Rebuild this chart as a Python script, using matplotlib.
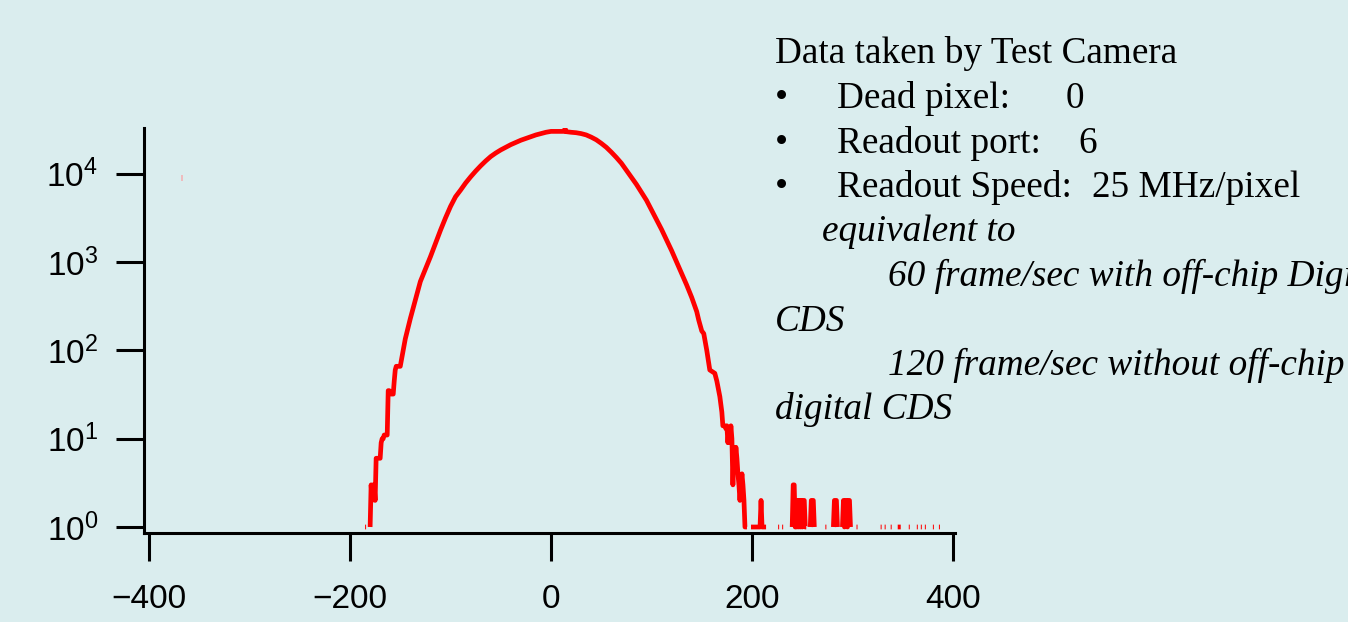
import numpy as np
import matplotlib
matplotlib.use("Agg")
import matplotlib.pyplot as plt
from matplotlib.ticker import FixedLocator, NullLocator, LogFormatterSciNotation

# ---- data (histogram: pixel value vs counts) ----
bin_x = [-185, -184, -183,
         -180, -179, -178, -177, -176, -175, -174, -173, -172, -171, -170, -169, -168, -167, -166, -165,
         -164, -163, -162, -161, -160, -159, -158, -157, -156, -155, -154, -153, -152, -151, -150,
         -145, -140, -135, -130, -125, -120, -115, -110, -105, -100, -95, -90, -85, -80, -75, -70,
         -65, -60, -55, -50, -45, -40, -35, -30, -25, -20, -15, -10, -5, 0, 5, 10, 13, 14, 15,
         20, 25, 30, 35, 40, 45, 50, 55, 60, 65, 70, 75, 80, 85, 90, 95, 100, 105, 110, 115, 120,
         125, 130, 135, 140, 145, 147, 148, 150, 152, 155, 158, 160, 163, 165, 168, 170,
         171, 172, 173, 174, 175, 176, 177, 178, 179, 180, 181, 182, 183, 184, 185, 186, 187,
         188, 189, 190, 191, 192, 193, 194, 195, 196,
         199, 200, 201, 202, 203, 204, 205, 206, 207, 208, 209, 210, 211, 212, 213, 214, 215,
         226, 227, 228, 230, 231, 232,
         240, 241, 242, 243, 244, 245, 246, 247, 248, 249, 250, 251, 252, 253, 254, 255,
         258, 259, 260, 261, 262, 263,
         273, 274, 275,
         281, 282, 283, 284, 285, 286,
         290, 291, 292, 293, 294, 295, 296, 297, 298, 299,
         304, 305, 306,
         328, 329, 330, 332, 333, 334, 338, 339, 340, 345, 346, 347, 348, 349,
         356, 357, 358, 364, 365, 366, 368, 369, 370, 372, 373, 374, 380, 381, 382, 386, 387]
counts = [1, 1, 0,
          1, 3, 2, 3, 3, 2, 6, 6, 6, 6, 6, 9, 10, 10, 11, 11,
          11, 11, 35, 35, 34, 32, 32, 32, 45, 60, 66, 66, 66, 66, 66,
          135, 229, 372, 603, 832, 1148, 1622, 2291, 3162, 4266, 5495, 6531, 7852, 9226, 10715, 12303,
          13964, 15668, 17179, 18621, 19953, 21380, 22646, 23988, 25119, 26303, 27542, 28510, 29512, 30200, 30200, 30200, 30200, 32700, 30000,
          29512, 29174, 28510, 27542, 26002, 24266, 22131, 19953, 17579, 15311, 13183, 10965, 9120, 7586, 6166, 5012, 3890, 3020, 2344, 1778, 1349,
          1000, 741, 550, 398, 275, 220, 200, 166, 155, 100, 60, 58, 55, 45, 30, 20,
          14, 14, 14, 13, 14, 9, 13, 9, 14, 10, 3, 8, 5, 8, 6, 4, 3,
          2, 3, 4, 3, 2, 1, 1, 1, 0,
          1, 1, 1, 1, 1, 1, 1, 1, 1, 1, 2, 1, 1, 1, 1, 1, 0,
          1, 1, 0, 1, 1, 0,
          1, 3, 3, 1, 1, 2, 1, 2, 1, 2, 1, 2, 2, 1, 1, 0,
          1, 2, 2, 2, 1, 0,
          1, 1, 0,
          1, 2, 2, 2, 1, 0,
          1, 2, 1, 2, 2, 1, 2, 2, 1, 0,
          1, 1, 0,
          1, 1, 0, 1, 1, 0, 1, 1, 0, 1, 1, 1, 1, 0,
          1, 1, 0, 1, 1, 0, 1, 1, 0, 1, 1, 0, 1, 1, 0, 1, 1]
stray_x = [-367]
stray_y = [8900]

x_ticks = [-400, -200, 0, 200, 400]
y_ticks = [1, 10, 100, 1000, 10000]

info_title = "Data taken by Test Camera"
info_items = [("Dead pixel:", "0"), ("Readout port:", "6"), ("Readout Speed:", "25 MHz/pixel")]
info_notes = ["equivalent to", "60 frame/sec with off-chip Digital", "CDS",
              "120 frame/sec without off-chip", "digital CDS"]

# ---- figure ----
W, H = 1348, 622
bg = "#daedee"
fig = plt.figure(figsize=(W / 100, H / 100), dpi=100, facecolor=bg)
plt.rcParams["mathtext.default"] = "regular"

def fx(px):
    return px / W

def fy(py):
    return 1 - py / H

ax = fig.add_axes([fx(144), fy(533), (955 - 144) / W, (533 - 128.3) / H])
ax.set_facecolor(bg)

y = np.array(counts, dtype=float)
y[y <= 0] = np.nan
ax.plot(bin_x, y, color="#ff0000", lw=3.4, solid_joinstyle="round", solid_capstyle="butt")
ax.plot(stray_x, stray_y, linestyle="none", marker="|", ms=4, mew=1.2, color="#f3b3b5")

ax.set_yscale("log")
ax.set_xlim(-405, 402)
ax.set_ylim(10 ** -0.068, 10 ** 4.515)
ax.xaxis.set_major_locator(FixedLocator(x_ticks))
ax.yaxis.set_major_locator(FixedLocator(y_ticks))
ax.yaxis.set_major_formatter(LogFormatterSciNotation())
ax.yaxis.set_minor_locator(NullLocator())
ax.xaxis.set_minor_locator(NullLocator())

for s in ["top", "right"]:
    ax.spines[s].set_visible(False)
for s in ["left", "bottom"]:
    ax.spines[s].set_linewidth(2.2)
    ax.spines[s].set_color("black")

tick_font = "Liberation Sans"
ax.tick_params(axis="both", which="major", direction="out", length=20, width=2.2,
               color="black", labelsize=24)
ax.tick_params(axis="y", pad=13)
ax.tick_params(axis="x", pad=17)
for lab in ax.get_xticklabels() + ax.get_yticklabels():
    lab.set_fontfamily(tick_font)

# ---- annotation text ----
serif = "Liberation Serif"
fs = 26.8
baselines = [63, 108, 153, 197, 241, 286, 331, 375, 419]
fig.text(fx(775), fy(baselines[0]), info_title, family=serif, fontsize=fs, va="baseline")
value_x = [1066, 1078, 1092]
for i, (lab, val) in enumerate(info_items):
    b = baselines[i + 1]
    fig.text(fx(775), fy(b), "\u2022", family=serif, fontsize=fs, va="baseline")
    fig.text(fx(837), fy(b), lab, family=serif, fontsize=fs, va="baseline")
    fig.text(fx(value_x[i]), fy(b), val, family=serif, fontsize=fs, va="baseline")
note_x = [822, 888, 775, 888, 775]
for i, t in enumerate(info_notes):
    fig.text(fx(note_x[i]), fy(baselines[i + 4]), t, family=serif, fontsize=fs,
             style="italic", va="baseline")

fig.savefig("out.png", dpi=100, facecolor=bg)
